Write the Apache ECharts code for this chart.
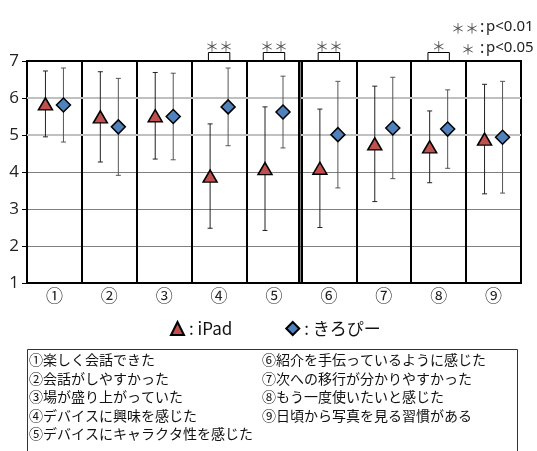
<!DOCTYPE html>
<html>
<head>
<meta charset="utf-8">
<script src="https://cdn.jsdelivr.net/npm/echarts@6/dist/echarts.min.js"></script>
<style>
  html, body { margin: 0; padding: 0; background: #fff; }
  #chart { width: 537px; height: 451px; }
</style>
</head>
<body>
<div id="chart"></div>
<script>
// Questionnaire items (x axis)
const categories = ['①', '②', '③', '④', '⑤', '⑥', '⑦', '⑧', '⑨'];

// Mean score and standard deviation per item
const ipadMean = [5.84, 5.49, 5.52, 3.89, 4.09, 4.10, 4.76, 4.68, 4.89];
const ipadSd   = [0.89, 1.22, 1.17, 1.41, 1.67, 1.60, 1.56, 0.97, 1.48];
const kiroMean = [5.81, 5.22, 5.50, 5.76, 5.62, 5.01, 5.19, 5.16, 4.94];
const kiroSd   = [1.00, 1.31, 1.17, 1.05, 0.97, 1.44, 1.37, 1.06, 1.51];

// Significance marks per item ('' = not significant)
const sigMarks = ['', '', '', '＊＊', '＊＊', '＊＊', '', '＊', ''];

// Y axis range
const yMin = 1, yMax = 7, yStep = 1;

// Item descriptions shown in the box below the chart
const descLeft = [
  '①楽しく会話できた',
  '②会話がしやすかった',
  '③場が盛り上がっていた',
  '④デバイスに興味を感じた',
  '⑤デバイスにキャラクタ性を感じた'
];
const descRight = [
  '⑥紹介を手伝っているように感じた',
  '⑦次への移行が分かりやすかった',
  '⑧もう一度使いたいと感じた',
  '⑨日頃から写真を見る習慣がある'
];

const JP = '"Noto Sans CJK JP", "Noto Sans", sans-serif';
const OFFSET = 9;      // horizontal pixel shift of each group's marker
const RED = '#C0504D';
const BLUE = '#4F81BD';

const chart = echarts.init(document.getElementById('chart'), null, { renderer: 'canvas' });

function errorBarItem(offset, color) {
  return function (params, api) {
    const i = api.value(0);
    const m = api.value(1);
    const sd = api.value(2);
    const hi = api.coord([i, m + sd]);
    const lo = api.coord([i, m - sd]);
    const x = hi[0] + offset;
    const cap = 2.5;
    const st = { stroke: color, lineWidth: 1 };
    return {
      type: 'group',
      children: [
        { type: 'line', shape: { x1: x, y1: hi[1], x2: x, y2: lo[1] }, style: st },
        { type: 'line', shape: { x1: x - cap, y1: hi[1], x2: x + cap, y2: hi[1] }, style: st },
        { type: 'line', shape: { x1: x - cap, y1: lo[1], x2: x + cap, y2: lo[1] }, style: st }
      ]
    };
  };
}

function sigItem(params, api) {
  const mark = sigMarks[params.dataIndex];
  if (!mark) return null;
  const p = api.coord([api.value(0), yMax]);
  const half = api.size([1, 0])[0] * 0.195;
  const h = 8.5;
  return {
    type: 'group',
    children: [
      {
        type: 'polyline',
        shape: { points: [[p[0] - half, p[1]], [p[0] - half, p[1] - h], [p[0] + half, p[1] - h], [p[0] + half, p[1]]] },
        style: { stroke: '#000', lineWidth: 1, fill: null }
      },
      {
        type: 'text',
        x: p[0], y: p[1] - h,
        style: { text: mark, fill: '#555', font: '14px ' + JP, align: 'center', verticalAlign: 'bottom' }
      }
    ]
  };
}

const graphics = [
  // p-value key, top right
  { type: 'text', right: 58, top: 21, style: { text: '＊＊', fill: '#555', font: '14px ' + JP } },
  { type: 'text', left: 480, top: 19, style: { text: ':', fill: '#222', font: '16px "Noto Sans", sans-serif' } },
  { type: 'text', left: 486, top: 19, style: { text: 'p<0.01', fill: '#222', font: '15px "Noto Sans", sans-serif' } },
  { type: 'text', right: 62, top: 42, style: { text: '＊', fill: '#555', font: '14px ' + JP } },
  { type: 'text', left: 480, top: 40, style: { text: ':', fill: '#222', font: '16px "Noto Sans", sans-serif' } },
  { type: 'text', left: 486, top: 40, style: { text: 'p<0.05', fill: '#222', font: '15px "Noto Sans", sans-serif' } },
  // heavier divider between the first and second half of the items
  { type: 'rect', shape: { x: 298, y: 61, width: 2.5, height: 222 }, style: { fill: '#000' }, z: 10 },
  // description box
  { type: 'rect', shape: { x: 27.5, y: 349.5, width: 490, height: 120 }, style: { fill: 'none', stroke: '#333', lineWidth: 1 } }
];
descLeft.forEach((t, k) => {
  graphics.push({ type: 'text', left: 29, top: 353 + k * 18.4, style: { text: t, fill: '#111', font: '14px ' + JP } });
});
descRight.forEach((t, k) => {
  graphics.push({ type: 'text', left: 262, top: 353 + k * 18.4, style: { text: t, fill: '#111', font: '14px ' + JP } });
});

const option = {
  animation: false,
  backgroundColor: '#fff',
  grid: { left: 27, top: 61, width: 494, height: 222, show: true, borderColor: '#000', borderWidth: 2, backgroundColor: 'transparent' },
  legend: {
    data: ['iPad', 'きろぴー'],
    left: 165, top: 315,
    itemWidth: 13, itemHeight: 13, itemGap: 53,
    formatter: n => ': ' + n,
    textStyle: { fontSize: 17, color: '#111', fontFamily: JP }
  },
  xAxis: {
    type: 'category',
    data: categories,
    boundaryGap: true,
    axisLine: { show: true, lineStyle: { color: '#000', width: 2 } },
    axisTick: { show: false },
    axisLabel: { fontSize: 17, color: '#222', fontFamily: JP, margin: 4, interval: 0 },
    splitLine: { show: true, interval: 0, lineStyle: { color: '#000', width: 2 } }
  },
  yAxis: {
    type: 'value',
    min: yMin, max: yMax, interval: yStep,
    axisLine: { show: true, lineStyle: { color: '#000', width: 2 } },
    axisTick: { show: true, length: 5, lineStyle: { color: '#000' } },
    axisLabel: { fontSize: 17, color: '#222', fontFamily: '"Open Sans", "Noto Sans", sans-serif', margin: 8 },
    splitLine: { show: true, lineStyle: { color: ['transparent', '#7f7f7f', '#7f7f7f', '#7f7f7f', 'transparent', 'transparent', 'transparent'], width: 1 } }
  },
  graphic: graphics,
  series: [
    {
      name: 'iPad-err',
      type: 'custom',
      renderItem: errorBarItem(-OFFSET, '#222'),
      data: ipadMean.map((m, i) => [i, m, ipadSd[i]]),
      encode: { x: 0, y: 1 },
      z: 3,
      silent: true,
      markLine: {
        silent: true, symbol: 'none', label: { show: false },
        lineStyle: { color: '#c0c0c0', width: 2, type: 'solid' },
        data: [{ yAxis: 5 }, { yAxis: 6 }],
        z: 1
      }
    },
    {
      name: 'kiro-err',
      type: 'custom',
      renderItem: errorBarItem(OFFSET, '#555'),
      data: kiroMean.map((m, i) => [i, m, kiroSd[i]]),
      encode: { x: 0, y: 1 },
      z: 3,
      silent: true
    },
    {
      name: 'iPad',
      type: 'scatter',
      data: ipadMean,
      symbol: 'triangle',
      symbolSize: [14, 12],
      symbolOffset: [-OFFSET, 0],
      itemStyle: { color: RED, borderColor: '#000', borderWidth: 1.5, opacity: 1 },
      z: 5
    },
    {
      name: 'きろぴー',
      type: 'scatter',
      data: kiroMean,
      symbol: 'diamond',
      symbolSize: [14, 14],
      symbolOffset: [OFFSET, 0],
      itemStyle: { color: BLUE, borderColor: '#000', borderWidth: 1.5, opacity: 1 },
      z: 5
    },
    {
      name: 'sig',
      type: 'custom',
      renderItem: sigItem,
      data: categories.map((c, i) => [i, yMax]),
      encode: { x: 0, y: 1 },
      clip: false,
      silent: true,
      z: 6
    }
  ]
};

chart.setOption(option);
</script>
</body>
</html>
